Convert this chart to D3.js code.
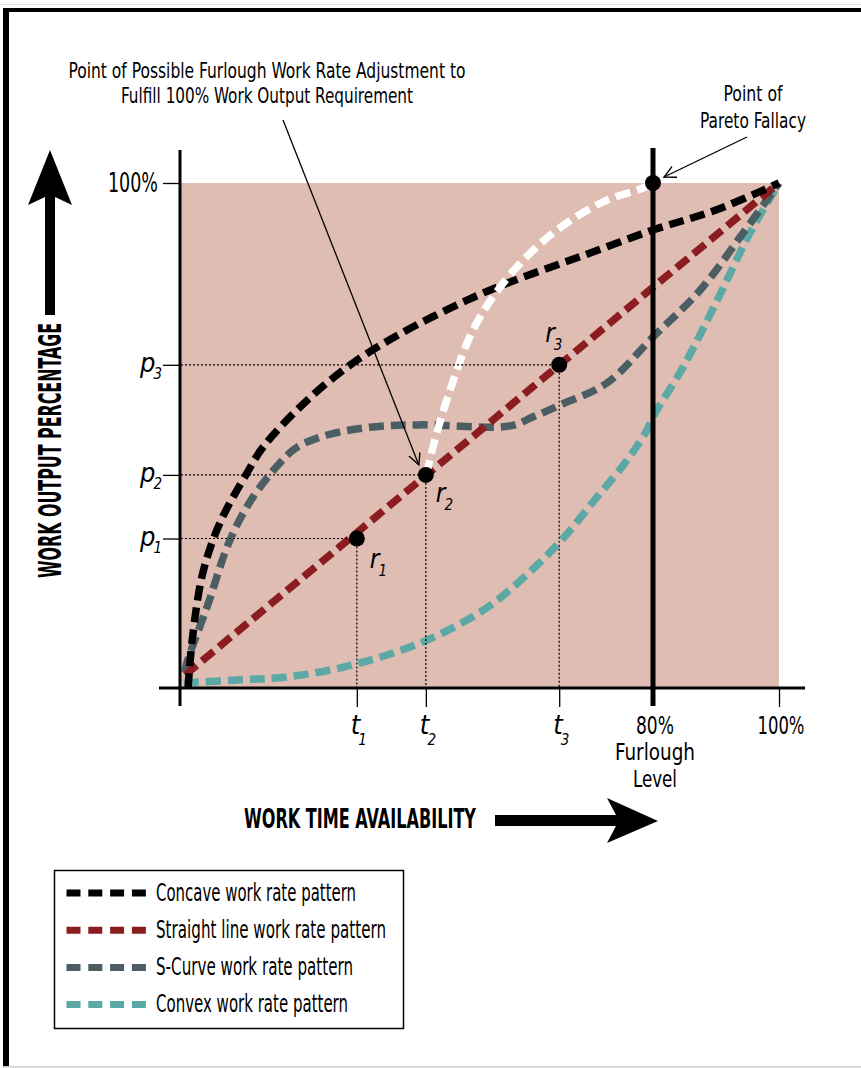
<!DOCTYPE html>
<html>
<head>
<meta charset="utf-8">
<script src="https://cdn.jsdelivr.net/npm/d3@7"></script>
<style>
  body { margin: 0; background: #fff; }
  svg { display: block; }
  text { font-family: 'Liberation Sans Narrow', 'DejaVu Sans Condensed', 'Roboto', sans-serif; fill: #000; }
</style>
</head>
<body>
<svg id="chart" width="861" height="1068"></svg>
<script>
// curves: [work time %, work output %]
const concave = [[1.2,0],[1.9,9.5],[3.7,22.8],[6.6,32.7],[11.2,42.6],[13.9,47.7],[21.4,57.0],[29.2,64.4],[37.1,70.1],[48.5,76.8],[55.8,80.4],[67.6,85.4],[80,90.7],[90.1,94.7],[100,100]];
const straight = [[0.7,2.6],[100,100]];
const sCurve = [[0.7,3.2],[1.0,5.0],[4.4,16.0],[8.3,29.3],[12.2,37.8],[16.8,44.6],[19.7,47.7],[24.8,50.1],[32.5,51.7],[40.5,52.1],[55.8,51.9],[59.7,53.7],[64.2,56.0],[72.2,60.4],[80,69.5],[87.5,78.8],[94.3,90.1],[100,100]];
const convex = [[0.5,1.0],[9.5,1.6],[18.0,2.2],[29.2,4.6],[40.5,8.9],[50.7,15.0],[56.3,20.0],[64.2,28.9],[70.5,37.8],[75.6,45.1],[79.0,51.1],[80,53.7],[84.8,63.6],[90.2,76.8],[95.4,90.1],[100,100]];
const paretoCurve = [[41.5,42.2],[42.2,45.1],[42.7,47.7],[45.6,59.0],[49.5,70.9],[54.1,79.4],[59.7,86.7],[65.4,92.1],[72.2,96.6],[78.3,99.0],[80,100]];

// points on the straight line
const rNames = ["1","2","3"];
const tValues = [29.8, 41.5, 64.1];
const pValues = [29.6, 42.2, 64.0];
const paretoPoint = [80, 100];
const furlough = 80;

// tick labels
const yTickValues = [29.6, 42.2, 64.0, 100];
const yTickLabels = [["p","1"],["p","2"],["p","3"],["100%",""]];
const xTickValues = [29.8, 41.5, 64.1, 100];
const xTickLabels = [["t","1"],["t","2"],["t","3"],["100%",""]];
const furloughLabel = ["80%", "Furlough", "Level"];

const seriesNames = ["Concave work rate pattern","Straight line work rate pattern","S-Curve work rate pattern","Convex work rate pattern"];
const seriesColors = ["#000000","#8b1c1f","#4b5e64","#5ba8a4"];

const svg = d3.select("#chart");

// frame
svg.append("rect").attr("x", 0).attr("y", 4).attr("width", 861).attr("height", 1).attr("fill", "#ddd");
svg.append("rect").attr("x", 3).attr("y", 8).attr("width", 858).attr("height", 4).attr("fill", "#000");
svg.append("rect").attr("x", 3).attr("y", 8).attr("width", 6).attr("height", 1059).attr("fill", "#000");
svg.append("rect").attr("x", 3).attr("y", 1066).attr("width", 858).attr("height", 1.5).attr("fill", "#ccc");

const x = d3.scaleLinear().domain([0, 80, 100]).range([181, 653, 779]);
const y = d3.scaleLinear().domain([0, 100]).range([688, 183]);

const defs = svg.append("defs");
defs.append("marker")
    .attr("id", "vhead")
    .attr("markerUnits", "userSpaceOnUse")
    .attr("markerWidth", 16).attr("markerHeight", 14)
    .attr("refX", 12).attr("refY", 6)
    .attr("orient", "auto")
    .append("path")
    .attr("d", "M0,0 L12,6 L0,12")
    .attr("fill", "none")
    .attr("stroke", "#000")
    .attr("stroke-width", 1.4);

// background panel
svg.append("rect")
    .attr("x", x(0)).attr("y", y(100))
    .attr("width", x(100) - x(0)).attr("height", y(0) - y(100))
    .attr("fill", "#e0bdb2");

const line = d3.line().x(d => x(d[0])).y(d => y(d[1])).curve(d3.curveCatmullRom.alpha(0.5));
const dash = "15 7";

// curves, back to front
[[convex, 3], [sCurve, 2], [straight, 1], [concave, 0]].forEach(([data, i]) => {
    svg.append("path")
        .datum(data)
        .attr("fill", "none")
        .attr("stroke", seriesColors[i])
        .attr("stroke-width", 7.5)
        .attr("stroke-dasharray", dash)
        .attr("d", line);
});

svg.append("path")
    .datum(paretoCurve)
    .attr("fill", "none")
    .attr("stroke", "#fff")
    .attr("stroke-width", 7.5)
    .attr("stroke-dasharray", dash)
    .attr("d", line);

// dotted guides
const guides = svg.append("g").attr("stroke", "#000").attr("stroke-width", 1.2).attr("stroke-dasharray", "2 2");
tValues.forEach((t, i) => {
    guides.append("line").attr("x1", x(0)).attr("x2", x(t)).attr("y1", y(pValues[i])).attr("y2", y(pValues[i]));
    guides.append("line").attr("x1", x(t)).attr("x2", x(t)).attr("y1", y(pValues[i])).attr("y2", y(0));
});

// axes
svg.append("line").attr("x1", x(0) - 1).attr("x2", x(0) - 1).attr("y1", 150).attr("y2", 706)
    .attr("stroke", "#000").attr("stroke-width", 3);
svg.append("line").attr("x1", 159).attr("x2", 805).attr("y1", y(0)).attr("y2", y(0))
    .attr("stroke", "#000").attr("stroke-width", 3);

const yAxis = svg.append("g")
    .attr("transform", `translate(${x(0) - 1},0)`)
    .call(d3.axisLeft(y).tickValues(yTickValues).tickSize(17).tickFormat(""));
const xAxis = svg.append("g")
    .attr("transform", `translate(0,${y(0)})`)
    .call(d3.axisBottom(x).tickValues(xTickValues).tickSize(19).tickFormat(""));
[yAxis, xAxis].forEach(a => {
    a.select(".domain").remove();
    a.selectAll(".tick line").attr("stroke-width", 1.3);
});

// furlough level line
svg.append("line").attr("x1", x(furlough)).attr("x2", x(furlough)).attr("y1", 148).attr("y2", 706)
    .attr("stroke", "#000").attr("stroke-width", 5);

// y tick labels
yTickValues.forEach((v, i) => {
    const [main, sub] = yTickLabels[i];
    if (!sub) {
        svg.append("text").attr("x", 158).attr("y", y(v) + 9)
            .attr("text-anchor", "end").style("font-size", "26px")
            .attr("textLength", 50).attr("lengthAdjust", "spacingAndGlyphs")
            .text(main);
    } else {
        const t = svg.append("text").attr("x", 140).attr("y", y(v) + 7);
        t.append("tspan").style("font-size", "27px").style("font-style", "italic").text(main);
        t.append("tspan").attr("dx", -2).attr("dy", 7).style("font-size", "15px").style("font-style", "italic").text(sub);
    }
});

// x tick labels
xTickValues.forEach((v, i) => {
    const [main, sub] = xTickLabels[i];
    if (!sub) {
        svg.append("text").attr("x", x(v) + 2).attr("y", 734)
            .attr("text-anchor", "middle").style("font-size", "25px")
            .attr("textLength", 47).attr("lengthAdjust", "spacingAndGlyphs")
            .text(main);
    } else {
        const t = svg.append("text").attr("x", x(v) - 6).attr("y", 734);
        t.append("tspan").style("font-size", "27px").style("font-style", "italic").text(main);
        t.append("tspan").attr("dx", -2).attr("dy", 11).style("font-size", "15px").style("font-style", "italic").text(sub);
    }
});
const fl = [[734, 25, 38], [760, 23, 80], [787, 23, 44]];
furloughLabel.forEach((s, i) => {
    svg.append("text").attr("x", x(furlough) + 2).attr("y", fl[i][0])
        .attr("text-anchor", "middle").style("font-size", fl[i][1] + "px")
        .attr("textLength", fl[i][2]).attr("lengthAdjust", "spacingAndGlyphs")
        .text(s);
});

// r points and labels
const rOffsets = [[13, 29], [10, 27], [-14, -23]];
tValues.forEach((t, i) => {
    svg.append("circle").attr("cx", x(t)).attr("cy", y(pValues[i])).attr("r", 8).attr("fill", "#000");
    const lab = svg.append("text")
        .attr("x", x(t) + rOffsets[i][0]).attr("y", y(pValues[i]) + rOffsets[i][1]);
    lab.append("tspan").style("font-size", "26px").style("font-style", "italic").text("r");
    lab.append("tspan").attr("dx", -1).attr("dy", 8).style("font-size", "15px").style("font-style", "italic").text(rNames[i]);
});
svg.append("circle").attr("cx", x(paretoPoint[0])).attr("cy", y(paretoPoint[1])).attr("r", 8).attr("fill", "#000");

// annotations
svg.append("line")
    .attr("x1", 283).attr("y1", 120)
    .attr("x2", x(tValues[1]) - 7).attr("y2", y(pValues[1]) - 10)
    .attr("stroke", "#000").attr("stroke-width", 1.3)
    .attr("marker-end", "url(#vhead)");
svg.append("line")
    .attr("x1", 747).attr("y1", 137)
    .attr("x2", x(paretoPoint[0]) + 11).attr("y2", y(paretoPoint[1]) - 6)
    .attr("stroke", "#000").attr("stroke-width", 1.3)
    .attr("marker-end", "url(#vhead)");

const ann = [
    ["Point of Possible Furlough Work Rate Adjustment to", 267, 78, 397],
    ["Fulfill 100% Work Output Requirement", 267, 103, 292],
    ["Point of", 753, 101, 59],
    ["Pareto Fallacy", 753, 128, 106]
];
ann.forEach(([s, ax, ay, len]) => {
    svg.append("text").attr("x", ax).attr("y", ay)
        .attr("text-anchor", "middle").style("font-size", "21px")
        .attr("textLength", len).attr("lengthAdjust", "spacingAndGlyphs")
        .text(s);
});

// axis titles with arrows
svg.append("path")
    .attr("d", "M50,150 L72,205 L55,197 L55,315 L45,315 L45,197 L28,205 Z")
    .attr("fill", "#000");
svg.append("text")
    .attr("transform", "translate(61,450.5) rotate(-90)")
    .attr("text-anchor", "middle")
    .style("font-size", "32px").style("font-weight", "bold")
    .attr("textLength", 255).attr("lengthAdjust", "spacingAndGlyphs")
    .text("WORK OUTPUT PERCENTAGE");

svg.append("text")
    .attr("x", 244).attr("y", 828)
    .style("font-size", "26px").style("font-weight", "bold")
    .attr("textLength", 232).attr("lengthAdjust", "spacingAndGlyphs")
    .text("WORK TIME AVAILABILITY");
svg.append("path")
    .attr("d", "M658,821 L607,843 L616,826 L495,826 L495,815 L616,815 L607,798 Z")
    .attr("fill", "#000");

// legend
const legend = svg.append("g");
legend.append("rect").attr("x", 54.5).attr("y", 870.5).attr("width", 349).attr("height", 158)
    .attr("fill", "#fff").attr("stroke", "#000").attr("stroke-width", 1.5);
const legendLens = [200, 230, 197, 192];
seriesNames.forEach((name, i) => {
    const cy = 893 + i * 37.2;
    legend.append("line").attr("x1", 66.5).attr("x2", 146).attr("y1", cy).attr("y2", cy)
        .attr("stroke", seriesColors[i]).attr("stroke-width", 7)
        .attr("stroke-dasharray", "14 7.8");
    legend.append("text").attr("x", 156).attr("y", cy + 7.5)
        .style("font-size", "24px")
        .attr("textLength", legendLens[i]).attr("lengthAdjust", "spacingAndGlyphs")
        .text(name);
});
</script>
</body>
</html>
